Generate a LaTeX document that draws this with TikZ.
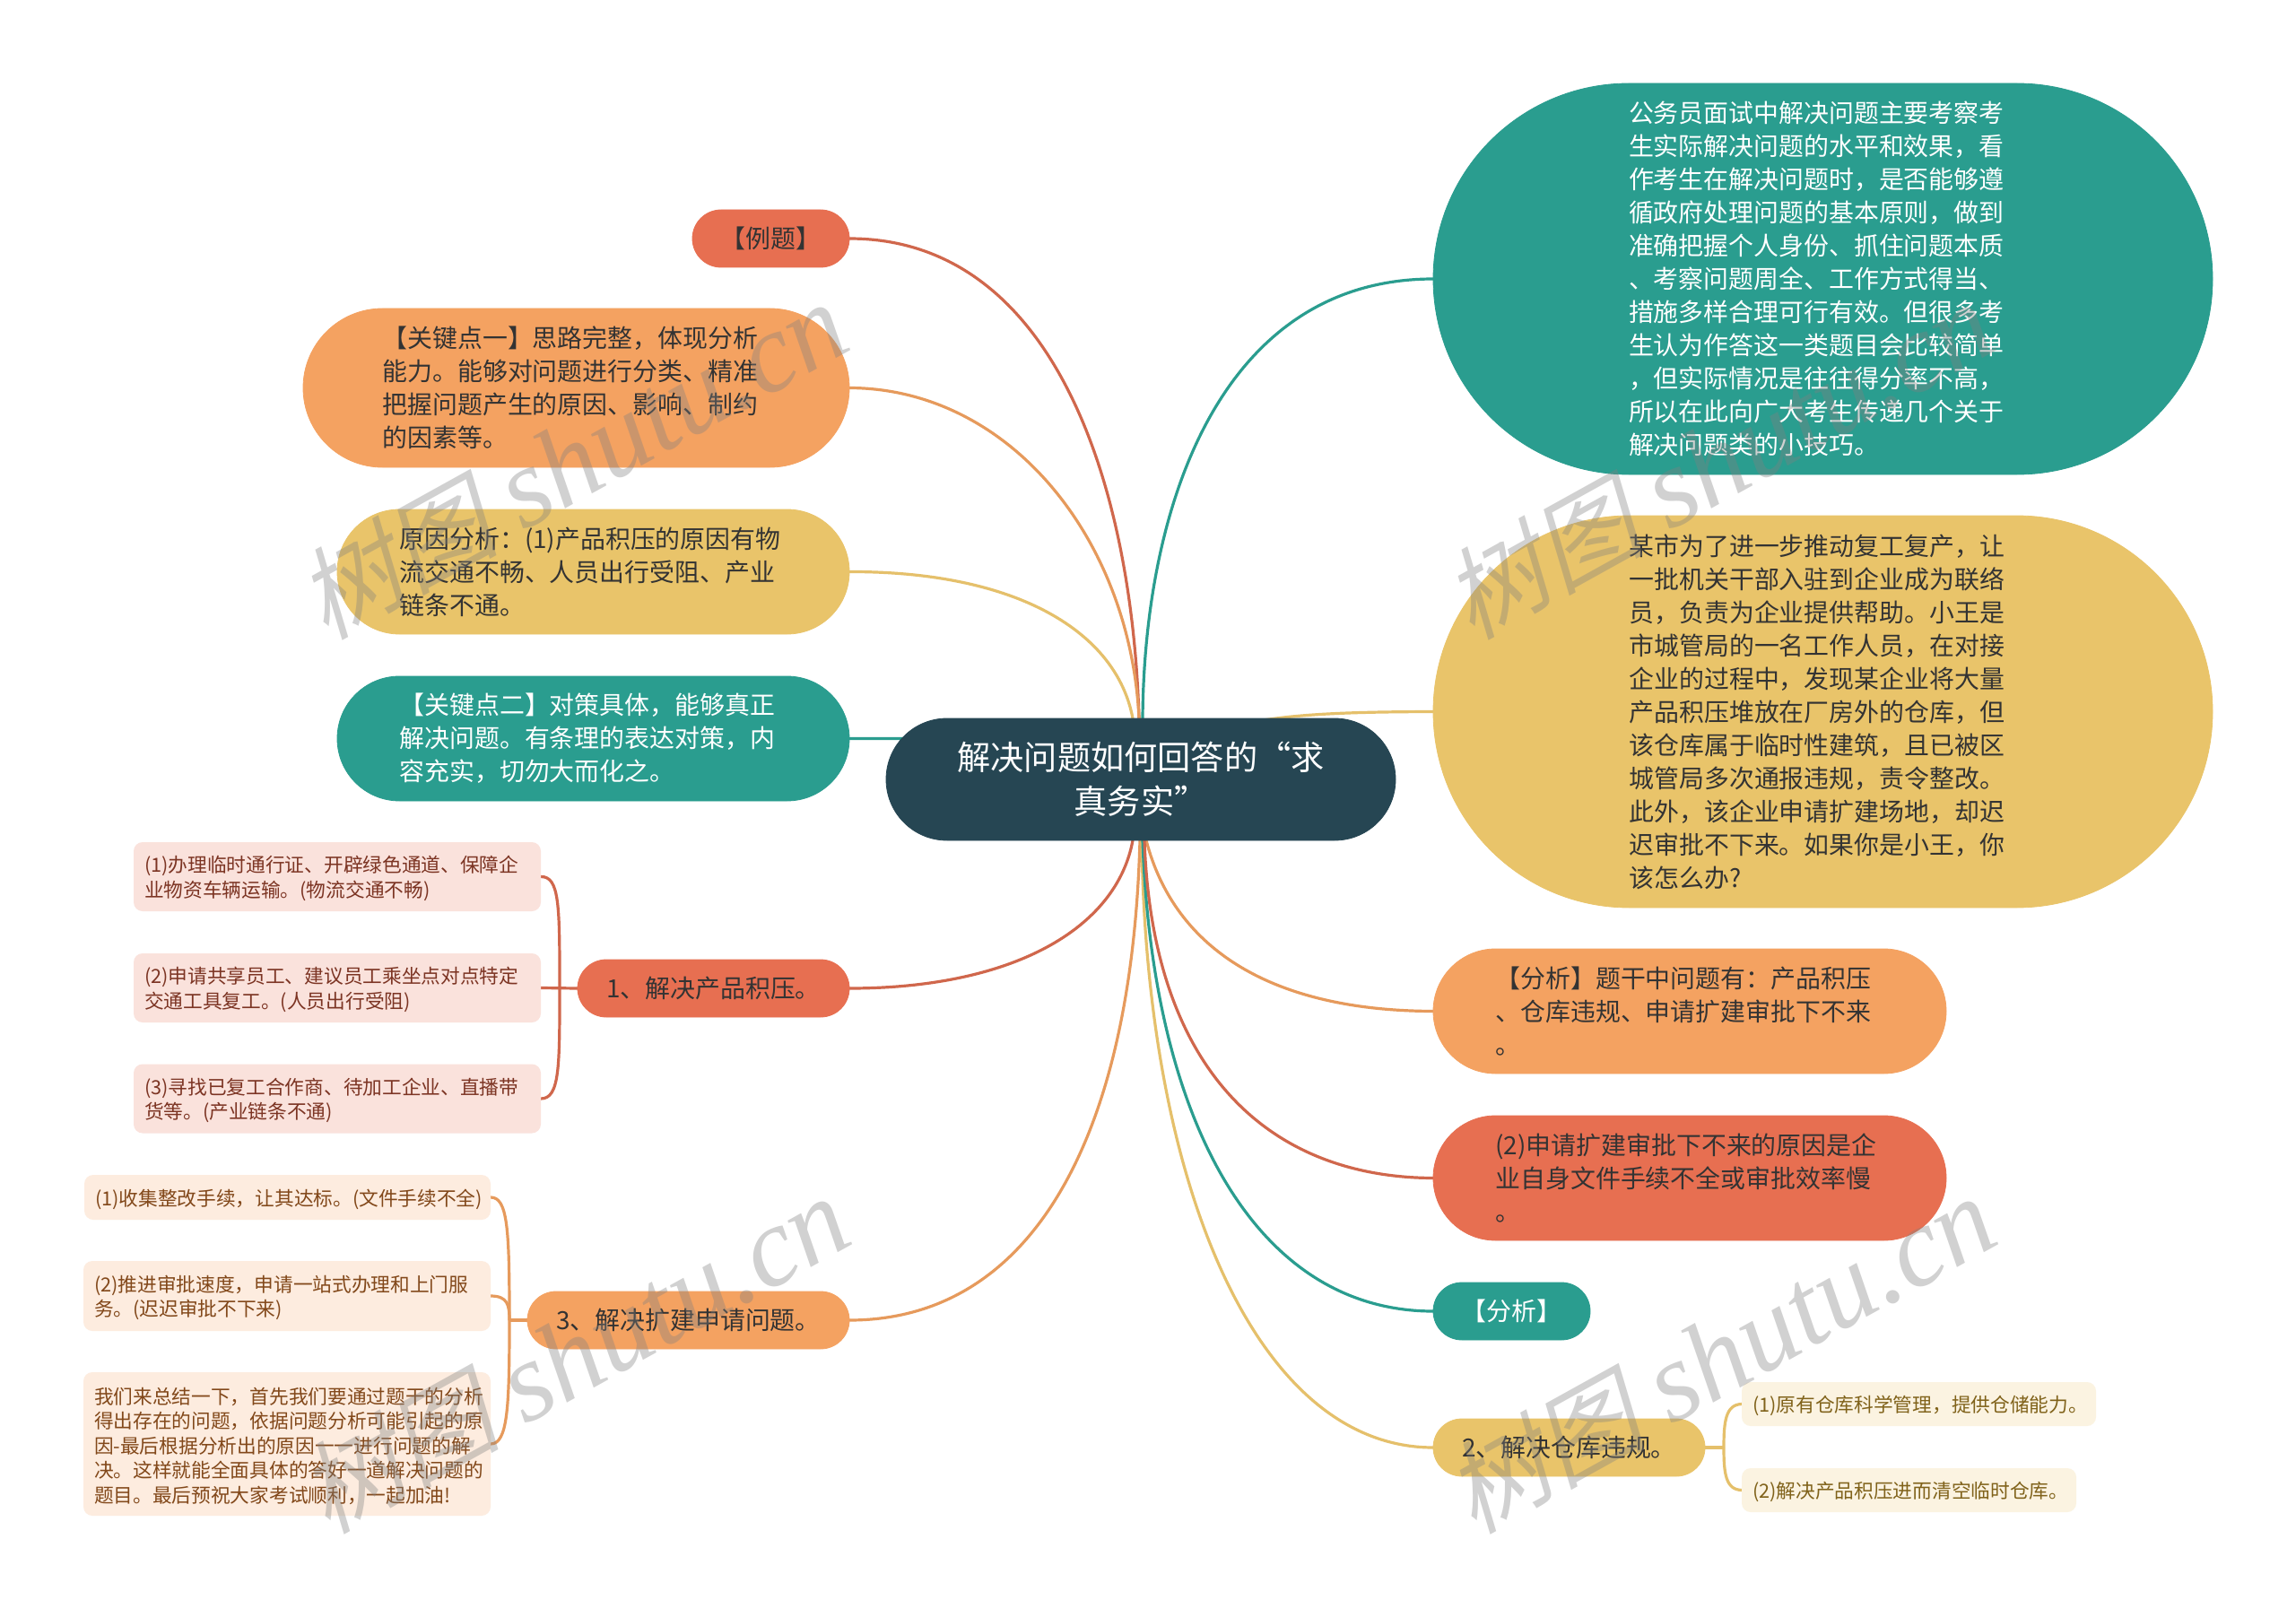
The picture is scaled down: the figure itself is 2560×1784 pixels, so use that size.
\documentclass[tikz,border=0pt]{standalone}
\usepackage{fontspec}
\setmainfont{Noto Sans CJK SC}
\newfontfamily\wmcjk[FakeSlant=0.22]{Noto Sans CJK SC}
\newfontfamily\wmlat{Liberation Serif}
\usetikzlibrary{backgrounds}
\definecolor{cR}{HTML}{E76F51}
\definecolor{cO}{HTML}{F4A261}
\definecolor{cY}{HTML}{E9C46A}
\definecolor{cT}{HTML}{2A9D8F}
\definecolor{cD}{HTML}{264653}
\definecolor{lR}{HTML}{D0674C}
\definecolor{lO}{HTML}{E69A5C}
\definecolor{lY}{HTML}{E5C06B}
\definecolor{lT}{HTML}{2A9D8F}
\definecolor{tR}{HTML}{FAE2DC}
\definecolor{tO}{HTML}{FDECDF}
\definecolor{tY}{HTML}{FBF3E1}
\definecolor{xR}{HTML}{7C3423}
\definecolor{xO}{HTML}{82481A}
\definecolor{xY}{HTML}{80621A}
\definecolor{ink}{HTML}{333333}
\tikzset{
  x=1pt,y=-1pt,
  base/.style={inner sep=0pt,outer sep=0pt,anchor=center},
  midfont/.style={font=\fontsize{27.9}{37}\selectfont},
  bubble/.style n args={3}{base,midfont,draw=#1,line width=0.8pt,fill=#1,text=ink,
     minimum width=#2*1pt,minimum height=#3*1pt,rounded corners=#3*0.5pt,
     text width={(#2-#3)*1pt},align=left},
  pill/.style n args={3}{base,midfont,draw=#1,line width=0.8pt,fill=#1,text=ink,
     minimum width=#2*1pt,minimum height=#3*1pt,rounded corners=#3*0.5pt,align=center},
  leaf/.style n args={4}{base,font=\fontsize{21.7}{27.5}\selectfont,fill=#1,text=#2,
     minimum width=#3*1pt,minimum height=#4*1pt,rounded corners=10pt,
     text width={(#3-24)*1pt},align=left,execute at begin node={\rule{0pt}{22.5pt}}},
  linkR/.style={draw=lR,line width=3.2pt},
  linkO/.style={draw=lO,line width=3.2pt},
  linkY/.style={draw=lY,line width=3.2pt},
  linkT/.style={draw=lT,line width=3.2pt},
  wmark/.style={base,rotate=29,text=gray,opacity=0.36},
}
\newcommand{\wmtext}{{\fontsize{112}{125}\selectfont\wmcjk 树图}\hspace{28pt}{\fontsize{126}{125}\selectfont\wmlat\itshape shutu.cn}}
\begin{document}
\begin{tikzpicture}
\useasboundingbox (0,0) rectangle (2560,1784);

% centre
\node[pill={cD}{568}{136},text=white,font=\fontsize{37.2}{49}\selectfont] (root) at (1272,869)
  {解决问题如何回答的“求\\真务实”};

% left branches
\node[pill={cR}{175}{64}] (li) at (859.5,266) {【例题】};
\node[bubble={cO}{609}{177}] (k1) at (642.5,432.5)
  {【关键点一】思路完整，体现分析\\能力。能够对问题进行分类、精准\\把握问题产生的原因、影响、制约\\的因素等。};
\node[bubble={cY}{571}{139}] (ra) at (661.5,637.5)
  {原因分析：(1)产品积压的原因有物\\流交通不畅、人员出行受阻、产业\\链条不通。};
\node[bubble={cT}{571}{139},text=white] (k2) at (661.5,823.5)
  {【关键点二】对策具体，能够真正\\解决问题。有条理的表达对策，内\\容充实，切勿大而化之。};
\node[pill={cR}{303}{64}] (n1) at (795.5,1102) {1、解决产品积压。};
\node[pill={cO}{359}{64}] (n3) at (767.5,1472) {3、解决扩建申请问题。};

\node[leaf={tR}{xR}{454}{77}] (a1) at (376,977.5)
  {(1)办理临时通行证、开辟绿色通道、保障企\\业物资车辆运输。(物流交通不畅)};
\node[leaf={tR}{xR}{454}{77}] (a2) at (376,1101.5)
  {(2)申请共享员工、建议员工乘坐点对点特定\\交通工具复工。(人员出行受阻)};
\node[leaf={tR}{xR}{454}{77}] (a3) at (376,1225)
  {(3)寻找已复工合作商、待加工企业、直播带\\货等。(产业链条不通)};
\node[leaf={tO}{xO}{453}{50}] (c1) at (320.5,1335)
  {(1)收集整改手续，让其达标。(文件手续不全)};
\node[leaf={tO}{xO}{454}{78}] (c2) at (320,1445)
  {(2)推进审批速度，申请一站式办理和上门服\\务。(迟迟审批不下来)};
\node[leaf={tO}{xO}{454}{160}] (c3) at (320,1610)
  {我们来总结一下，首先我们要通过题干的分析\\得出存在的问题，依据问题分析可能引起的原\\因-最后根据分析出的原因一一进行问题的解\\决。这样就能全面具体的答好一道解决问题的\\题目。最后预祝大家考试顺利，一起加油!};

% right branches
\node[bubble={cT}{869}{436},text=white] (t) at (2032.5,311)
  {公务员面试中解决问题主要考察考\\生实际解决问题的水平和效果，看\\作考生在解决问题时，是否能够遵\\循政府处理问题的基本原则，做到\\准确把握个人身份、抓住问题本质\\、考察问题周全、工作方式得当、\\措施多样合理可行有效。但很多考\\生认为作答这一类题目会比较简单\\，但实际情况是往往得分率不高，\\所以在此向广大考生传递几个关于\\解决问题类的小技巧。};
\node[bubble={cY}{869}{437}] (y) at (2032.5,793.5)
  {某市为了进一步推动复工复产，让\\一批机关干部入驻到企业成为联络\\员，负责为企业提供帮助。小王是\\市城管局的一名工作人员，在对接\\企业的过程中，发现某企业将大量\\产品积压堆放在厂房外的仓库，但\\该仓库属于临时性建筑，且已被区\\城管局多次通报违规，责令整改。\\此外，该企业申请扩建场地，却迟\\迟审批不下来。如果你是小王，你\\该怎么办?};
\node[bubble={cO}{572}{139}] (an) at (1884,1127.5)
  {【分析】题干中问题有：产品积压\\、仓库违规、申请扩建审批下不来\\。};
\node[bubble={cR}{572}{139}] (re) at (1884,1313.5)
  {(2)申请扩建审批下不来的原因是企\\业自身文件手续不全或审批效率慢\\。};
\node[pill={cT}{175}{64},text=white] (b) at (1685.5,1462) {【分析】};
\node[pill={cY}{303}{64}] (n2) at (1749.5,1614) {2、解决仓库违规。};
\node[leaf={tY}{xY}{395}{49}] (b1) at (2139.5,1565.5) {(1)原有仓库科学管理，提供仓储能力。};
\node[leaf={tY}{xY}{373}{49}] (b2) at (2128.5,1661.5) {(2)解决产品积压进而清空临时仓库。};

% connectors
\begin{pgfonlayer}{background}
  \fill[white] (0,0) rectangle (2560,1784);
  \draw[linkR] (li.east) .. controls (1173,266) and (1262,535) .. ([xshift=-2pt]root.north);
  \draw[linkO] (k1.east) .. controls (1125,433) and (1260,600) .. ([xshift=-2pt]root.north);
  \draw[linkY] (ra.east) .. controls (1135,637) and (1245,705) .. ([xshift=-9pt]root.north);
  \draw[linkT] (k2.east) .. controls (1100,823) and (1270,823) .. (root.center);
  \draw[linkR] (n1.east) .. controls (1130,1102) and (1245,1035) .. ([xshift=-9pt]root.south);
  \draw[linkO] (n3.east) .. controls (1150,1472) and (1262,1270) .. ([xshift=-1pt]root.south);

  \draw[linkT] ([xshift=2pt]root.north) .. controls (1276,556) and (1365,311) .. (t.west);
  \draw[linkY] (root.center) .. controls (1330,800) and (1430,794) .. (y.west);
  \draw[linkO] ([xshift=6pt]root.south) .. controls (1310,1060) and (1420,1127) .. (an.west);
  \draw[linkY] ([xshift=1pt]root.south) .. controls (1278,1320) and (1400,1614) .. (n2.west);
  \draw[linkT] ([xshift=2pt]root.south) .. controls (1285,1250) and (1400,1462) .. (b.west);
  \draw[linkR] ([xshift=4pt]root.south) .. controls (1285,1200) and (1420,1313) .. (re.west);

  % brackets
  \coordinate (ja) at (624,1102);
  \draw[linkR] (n1.west) -- (a2.east);
  \draw[linkR] (ja) .. controls (624,1010) and (624,977) .. (a1.east);
  \draw[linkR] (ja) .. controls (624,1190) and (624,1225) .. (a3.east);
  \coordinate (jc) at (568,1472);
  \draw[linkO] (n3.west) -- (jc);
  \draw[linkO] (jc) .. controls (568,1370) and (566,1335) .. (c1.east);
  \draw[linkO] (jc) .. controls (568,1455) and (566,1445) .. (c2.east);
  \draw[linkO] (jc) .. controls (568,1570) and (566,1610) .. (c3.east);
  \coordinate (jb) at (1922,1614);
  \draw[linkY] (n2.east) -- (jb);
  \draw[linkY] (jb) .. controls (1922,1585) and (1924,1566) .. (b1.west);
  \draw[linkY] (jb) .. controls (1922,1643) and (1924,1661) .. (b2.west);
\end{pgfonlayer}

% watermark
\node[wmark] (w1) at (638,514) {\wmtext};
\node[wmark] (w2) at (1916,514) {\wmtext};
\node[wmark] (w3) at (640,1511) {\wmtext};
\node[wmark] (w4) at (1918,1511) {\wmtext};
\end{tikzpicture}
\end{document}
